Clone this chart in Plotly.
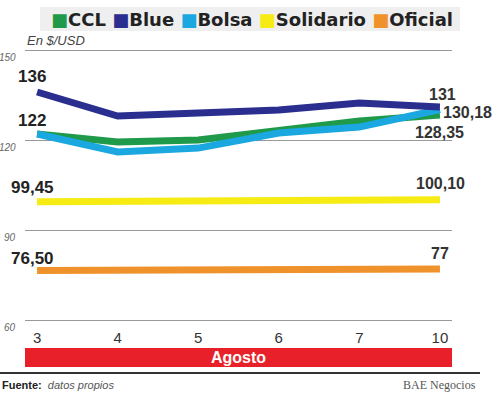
import plotly.graph_objects as go

days = ["3", "4", "5", "6", "7", "10"]
ccl = [122, 119.3, 120, 123.3, 126.3, 128.35]
blue = [136, 128, 129, 130, 132.3, 131]
bolsa = [122, 116, 117.3, 122.3, 124.3, 130.18]
solidario = [99.45, 99.5, 99.7, 99.8, 99.9, 100.10]
oficial = [76.50, 76.6, 76.7, 76.8, 76.9, 77]

y_ticks = [60, 90, 120, 150]

series = [
    ("Solidario", solidario, "#f6ec13"),
    ("Oficial", oficial, "#f0922b"),
    ("CCL", ccl, "#1f9a4b"),
    ("Bolsa", bolsa, "#1ba8e0"),
    ("Blue", blue, "#2a2e8e"),
]

FONT = "Liberation Sans, Arial, sans-serif"

fig = go.Figure()
for name, vals, col in series:
    fig.add_trace(go.Scatter(x=days, y=vals, mode="lines", name=name,
                             line=dict(color=col, width=7, shape="linear"),
                             showlegend=False, hoverinfo="skip"))

first, last = 0, len(days) - 1

# left labels
left = [
    (blue[0], "136", 16),
    (ccl[0], "122", 14),
    (solidario[0], "99,45", 14),
    (oficial[0], "76,50", 12),
]
for v, t, ys in left:
    fig.add_annotation(x=first, y=v, text=f"<b>{t}</b>", showarrow=False,
                       xref="x", yref="y", xanchor="center", yanchor="middle",
                       xshift=-5, yshift=ys, font=dict(family=FONT, size=17, color="#222"))

# right labels
right = [
    (blue[-1], "131", 13, 3, "center"),
    (bolsa[-1], "130,18", -3, 1, "left"),
    (ccl[-1], "128,35", -18, 0, "center"),
    (solidario[-1], "100,10", 16, 1, "center"),
    (oficial[-1], "77", 16, 0, "center"),
]
for v, t, ys, xs, xa in right:
    fig.add_annotation(x=last, y=v, text=f"<b>{t}</b>", showarrow=False,
                       xref="x", yref="y", xanchor=xa, yanchor="middle",
                       xshift=xs, yshift=ys, font=dict(family=FONT, size=16, color="#333"))

# y tick labels (below gridlines)
for t in y_ticks:
    fig.add_annotation(x=0, y=t, xref="paper", yref="y", text=f"<i>{t}</i>",
                       showarrow=False, xanchor="right", yanchor="top",
                       xshift=-7, yshift=0, font=dict(family=FONT, size=10, color="#666"))

fig.add_annotation(x=0, y=y_ticks[-1], xref="paper", yref="y", text="<i>En $/USD</i>",
                   showarrow=False, xanchor="left", yanchor="bottom", yshift=0,
                   font=dict(family=FONT, size=13, color="#444"))

# legend
legend_items = [("CCL", "#1f9a4b"), ("Blue", "#2a2e8e"), ("Bolsa", "#1ba8e0"),
                ("Solidario", "#f6ec13"), ("Oficial", "#f0922b")]
leg_text = " ".join(f"<span style='color:{c}'>■</span>{n}" for n, c in legend_items)
fig.add_shape(type="rect", xref="paper", yref="paper", x0=15/427, x1=435/427,
              y0=1.0 + 10/288, y1=1.0 + 34/288, fillcolor="#efefef", line_width=0, layer="below")
fig.add_annotation(x=227/427, y=1.0 + 22/288, xref="paper", yref="paper",
                   text=f"<b>{leg_text}</b>", showarrow=False, xanchor="center", yanchor="middle",
                   font=dict(family="DejaVu Sans, sans-serif", size=18, color="#222"))

# Agosto bar
fig.add_shape(type="rect", xref="paper", yref="paper", x0=0, x1=1,
              y0=-38/288, y1=-19/288, fillcolor="#e8202a", line_width=0)
fig.add_annotation(x=0.5, y=-28.5/288, xref="paper", yref="paper", text="<b>Agosto</b>",
                   showarrow=False, xanchor="center", yanchor="middle",
                   font=dict(family=FONT, size=16, color="white"))

# footer line and texts
fig.add_shape(type="line", xref="paper", yref="paper", x0=-25/427, x1=455/427,
              y0=-44/288, y1=-44/288, line=dict(color="#333", width=2))
fig.add_annotation(x=-25/427, y=-56/288, xref="paper", yref="paper",
                   text="<b>Fuente:</b>  <i><span style='color:#555'>datos propios</span></i>",
                   showarrow=False, xanchor="left", yanchor="middle",
                   font=dict(family=FONT, size=11, color="#222"))
fig.add_annotation(x=453/427, y=-56/288, xref="paper", yref="paper",
                   text="BAE Negocios", showarrow=False, xanchor="right", yanchor="middle",
                   font=dict(family="Liberation Serif, Times New Roman, serif", size=12, color="#555"))

fig.update_layout(
    width=500, height=395,
    margin=dict(l=25, r=48, t=41, b=66),
    paper_bgcolor="white", plot_bgcolor="white",
    xaxis=dict(type="category", categoryorder="array", categoryarray=days,
               range=[-0.15, 5.15], showgrid=False, zeroline=False, showline=False,
               ticks="", tickfont=dict(family=FONT, size=15, color="#333"),
               ticklabelstandoff=-2),
    yaxis=dict(range=[57, 153], tickvals=y_ticks, showticklabels=False,
               showgrid=True, gridcolor="#999", gridwidth=1, zeroline=False, showline=False),
)

fig.write_html("out.html", config={"displayModeBar": False},
               post_script="document.body.style.margin='0';")
